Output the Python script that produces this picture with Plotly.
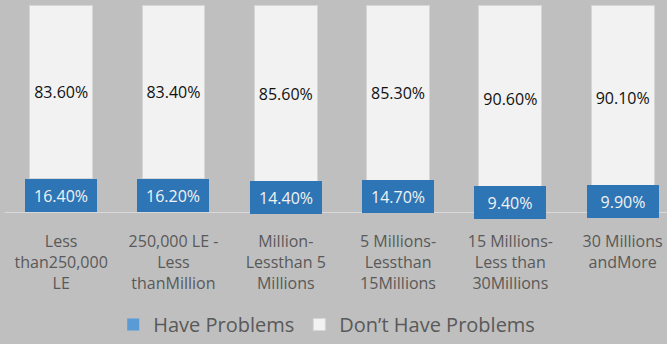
import plotly.graph_objects as go

categories = [
    "Less<br>than250,000<br>LE",
    "250,000 LE -<br>Less<br>thanMillion",
    "Million-<br>Lessthan 5<br>Millions",
    "5 Millions-<br>Lessthan<br>15Millions",
    "15 Millions-<br>Less than<br>30Millions",
    "30 Millions<br>andMore",
]
have_problems = [16.4, 16.2, 14.4, 14.7, 9.4, 9.9]
no_problems = [83.6, 83.4, 85.6, 85.3, 90.6, 90.1]

FONT = "Open Sans"
x = list(range(len(categories)))

fig = go.Figure()
fig.add_trace(go.Bar(
    x=x, y=have_problems, name="Have Problems",
    marker=dict(color="#5b9bd5", line=dict(width=0)),
    width=0.56, cliponaxis=False,
))
fig.add_trace(go.Bar(
    x=x, y=no_problems, name="Don\u2019t Have Problems",
    marker=dict(color="#f2f2f2", line=dict(color="#d6d6d6", width=1)),
    width=0.56, cliponaxis=False,
    texttemplate="%{y:.2f}%", textposition="inside", insidetextanchor="middle",
    textfont=dict(family=FONT, size=16, color="#111111"),
    textangle=0,
))

# boxed data labels for the lower segment
for xi, v in zip(x, have_problems):
    fig.add_annotation(
        x=xi, y=v / 2, xref="x", yref="y", text=f"{v:.2f}%", showarrow=False,
        font=dict(family=FONT, size=16, color="#f2f2f2"),
        bgcolor="#2e75b6", bordercolor="#2e75b6", borderwidth=1, borderpad=1,
        width=68, height=29, align="center", valign="middle",
    )

fig.update_layout(
    barmode="stack",
    width=667, height=344,
    margin=dict(l=5, r=0, t=5, b=132, autoexpand=False),
    paper_bgcolor="#bfbfbf", plot_bgcolor="#bfbfbf",
    font=dict(family=FONT, color="#595959"),
    showlegend=True,
    legend=dict(
        orientation="h", x=0.486, xanchor="center",
        yref="container", y=-0.012, yanchor="bottom",
        font=dict(family=FONT, size=20, color="#595959"),
        traceorder="normal", bgcolor="rgba(0,0,0,0)", itemwidth=30,
    ),
    xaxis=dict(
        tickmode="array", tickvals=x, ticktext=categories,
        range=[-0.5, 5.395], showgrid=False, zeroline=False,
        showline=True, linecolor="#d9d9d9", linewidth=1,
        tickfont=dict(family=FONT, size=16, color="#595959"),
        ticklabelstandoff=15,
        fixedrange=True,
    ),
    yaxis=dict(
        range=[0, 100], visible=False, showgrid=False, zeroline=False,
        fixedrange=True,
    ),
)

fig.write_html("out.html")
